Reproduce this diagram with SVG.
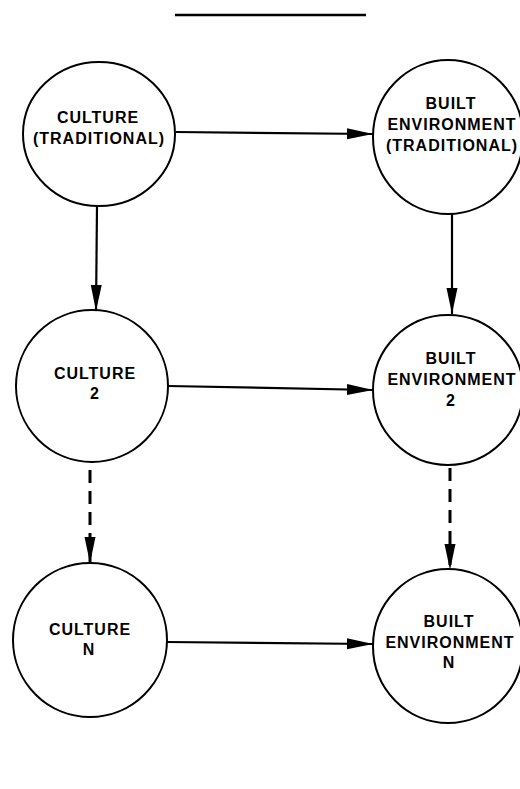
<svg xmlns="http://www.w3.org/2000/svg" width="520" height="789" viewBox="0 0 520 789">
<style>
.node ellipse{fill:none;stroke:#000;stroke-width:2}
.node text{font-family:"Liberation Sans",Arial,sans-serif;font-weight:bold;font-size:16px;letter-spacing:1px;text-anchor:middle;fill:#000}
.edge{fill:none;stroke:#000;stroke-width:2.2}
.dash{stroke-width:3;stroke-dasharray:13 8}
</style>
<defs>
<marker id="ah" markerUnits="userSpaceOnUse" markerWidth="27" markerHeight="13" refX="26" refY="6.5" orient="auto">
<path d="M0,1 L26,6.5 L0,12 z" fill="#000"/>
</marker>
</defs>
<rect width="520" height="789" fill="#fff"/>
<line x1="175" y1="15" x2="366" y2="15" stroke="#000" stroke-width="2.5"/>
<g id="connectors">
<line class="edge" x1="176" y1="132" x2="373" y2="134" marker-end="url(#ah)"/>
<line class="edge" x1="168" y1="386" x2="373" y2="390" marker-end="url(#ah)"/>
<line class="edge" x1="167" y1="642" x2="373" y2="644" marker-end="url(#ah)"/>
<line class="edge" x1="97" y1="206" x2="96" y2="311" marker-end="url(#ah)"/>
<line class="edge" x1="452" y1="214" x2="452" y2="314" marker-end="url(#ah)"/>
<line class="edge dash" x1="90" y1="470" x2="90" y2="563" marker-end="url(#ah)"/>
<line class="edge dash" x1="450" y1="468" x2="450" y2="570" marker-end="url(#ah)"/>
</g>
<g id="culture-traditional" class="node">
<ellipse cx="99" cy="134" rx="76" ry="72"/>
<text x="98" y="123">CULTURE</text>
<text x="99" y="144">(TRADITIONAL)</text>
</g>
<g id="built-traditional" class="node">
<ellipse cx="448" cy="137" rx="75" ry="77"/>
<text x="451" y="109">BUILT</text>
<text x="452" y="130">ENVIRONMENT</text>
<text x="452" y="151">(TRADITIONAL)</text>
</g>
<g id="culture-2" class="node">
<ellipse cx="92" cy="386" rx="76" ry="76"/>
<text x="95" y="379">CULTURE</text>
<text x="95" y="399">2</text>
</g>
<g id="built-2" class="node">
<ellipse cx="448" cy="390" rx="75" ry="75"/>
<text x="451" y="364">BUILT</text>
<text x="452" y="385">ENVIRONMENT</text>
<text x="451" y="406">2</text>
</g>
<g id="culture-n" class="node">
<ellipse cx="90" cy="640" rx="77" ry="77"/>
<text x="90" y="635">CULTURE</text>
<text x="89" y="655">N</text>
</g>
<g id="built-n" class="node">
<ellipse cx="448" cy="646" rx="75" ry="77"/>
<text x="449" y="627">BUILT</text>
<text x="450" y="648">ENVIRONMENT</text>
<text x="449" y="668">N</text>
</g>
</svg>
